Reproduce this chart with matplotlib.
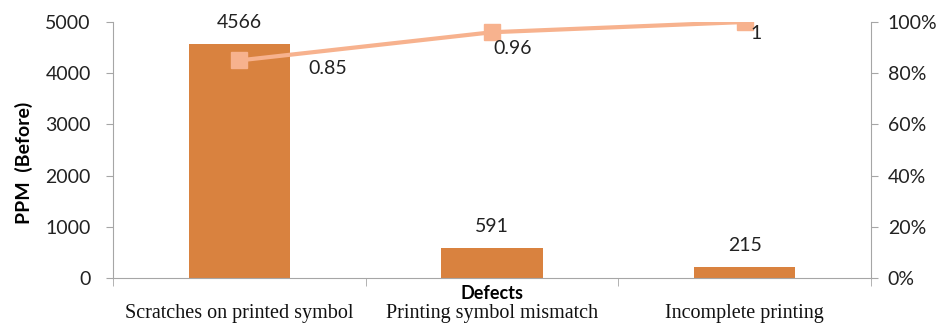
import matplotlib.pyplot as plt
import numpy as np

categories = ['Scratches on printed symbol', 'Printing symbol mismatch', 'Incomplete printing']
ppm = [4566, 591, 215]
cum_share = [0.85, 0.96, 1.0]
cum_labels = ['0.85', '0.96', '1']

BAR = '#D9823F'
LINE = '#F7B28E'
GRID = '#A6A6A6'
SANS = 'Lato'

fig = plt.figure(figsize=(9.43, 3.27), dpi=100)
ax = fig.add_axes([113 / 943, 1 - 278 / 327, 758 / 943, 256 / 327])
x = np.arange(len(categories))

ax.bar(x, ppm, width=0.4, color=BAR, zorder=2)
for xi, v in zip(x, ppm):
    ax.text(xi, v + 420, str(v), ha='center', va='center', fontsize=14,
            family=SANS, color='#222222')

ax.set_xlim(-0.5, 2.5)
ax.set_ylim(0, 5000)
ax.set_yticks(range(0, 5001, 1000))
ax.set_xticks([])
ax.set_xticks([-0.5, 0.5, 1.5, 2.5], minor=True)
ax.tick_params(axis='x', which='minor', length=6, color=GRID, direction='out')
ax.tick_params(axis='y', length=5, color=GRID, labelsize=14, pad=11,
               labelcolor='#222222')
for lbl in ax.get_yticklabels():
    lbl.set_family(SANS)
for s in ('top', 'right'):
    ax.spines[s].set_visible(False)
for s in ('left', 'bottom'):
    ax.spines[s].set_color(GRID)

ax.set_ylabel('PPM  (Before)', fontsize=14, fontweight='bold', family=SANS)
ax.yaxis.set_label_coords(-0.105, 0.45)

for xi, name in zip(x, categories):
    ax.text(xi, -0.14, name, transform=ax.get_xaxis_transform(), ha='center',
            va='center', fontsize=14.5, family='Liberation Serif', color='#111111')
ax.text(1, -0.059, 'Defects', transform=ax.get_xaxis_transform(), ha='center',
        va='center', fontsize=13, fontweight='bold', family=SANS)

ax2 = ax.twinx()
ax2.plot(x, cum_share, color=LINE, lw=3, marker='s', ms=12, zorder=3)
ax2.set_ylim(0, 1)
ax2.set_yticks(np.linspace(0, 1, 6))
ax2.set_yticklabels([f'{int(t * 100)}%' for t in np.linspace(0, 1, 6)])
ax2.tick_params(axis='y', length=5, color=GRID, labelsize=14, pad=7,
                labelcolor='#222222')
for lbl in ax2.get_yticklabels():
    lbl.set_family(SANS)
for s in ('top', 'left', 'bottom'):
    ax2.spines[s].set_visible(False)
ax2.spines['right'].set_color(GRID)

offsets = [(0.35, -0.03), (0.083, -0.0625), (0.047, -0.043)]
for xi, v, t, (dx, dy) in zip(x, cum_share, cum_labels, offsets):
    ax2.text(xi + dx, v + dy, t, ha='center', va='center', fontsize=14,
             family=SANS, color='#222222')

fig.savefig('out.png', dpi=100)
